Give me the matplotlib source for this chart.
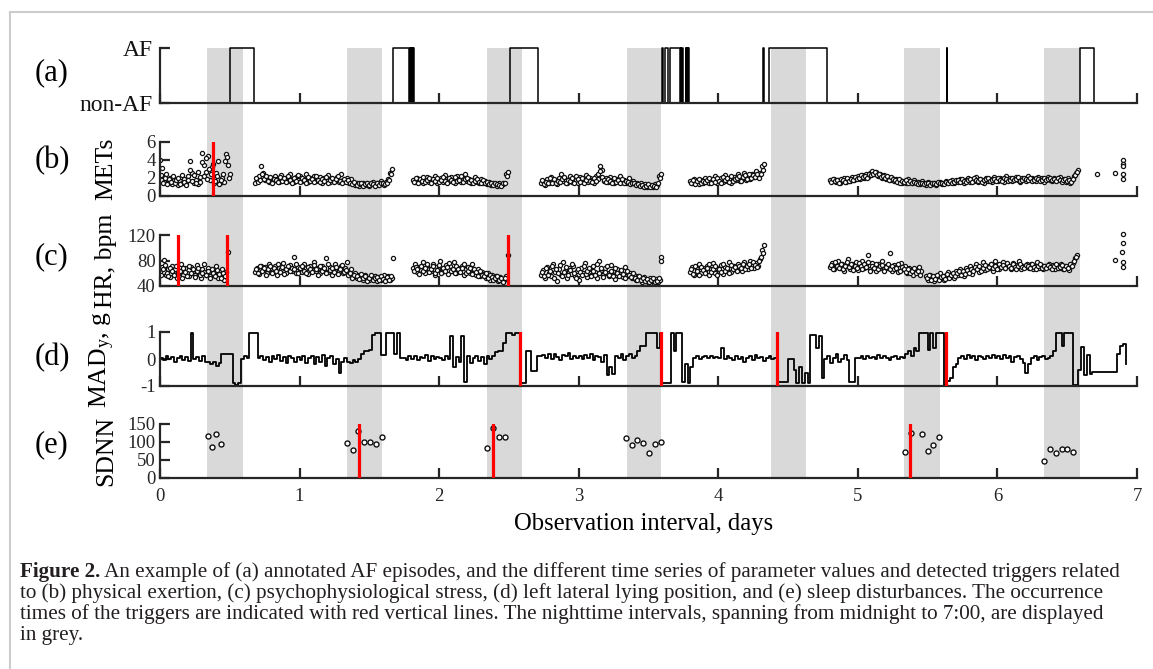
import numpy as np
import matplotlib.pyplot as plt
from matplotlib.lines import Line2D

plt.rcParams['font.family'] = 'Liberation Serif'
plt.rcParams['mathtext.fontset'] = 'custom'
plt.rcParams['mathtext.rm'] = 'Liberation Serif'
plt.rcParams['mathtext.it'] = 'Liberation Serif:italic'
plt.rcParams['axes.unicode_minus'] = False

W, H = 1153, 669

# ---- nights (grey), days ----
night_start = [0.334, 1.342, 2.34, 3.343, 4.375, 5.33, 6.335]
night_end = [0.592, 1.592, 2.595, 3.589, 4.63, 5.59, 6.59]

# ---- (a) AF episodes, days ----
af_start = [0.50, 1.67, 1.79, 1.80, 1.81, 1.816, 2.51, 3.600, 3.618, 3.657, 3.730, 3.742,
            3.768, 3.776, 3.784, 4.320, 4.365, 5.638, 6.59]
af_end = [0.67, 1.785, 1.795, 1.805, 1.813, 1.82, 2.71, 3.605, 3.642, 3.724, 3.736, 3.748,
          3.772, 3.780, 3.790, 4.325, 4.78, 5.642, 6.69]

# ---- (b) METs segments (start day, end day, values); two interleaved readings ----
mets_seg = [
    (0.00, 0.50, [4.0, 3.1, 1.6, 2.4, 1.4, 2.0, 1.3, 1.8, 1.5, 1.2, 1.7, 1.4, 1.9, 1.5, 2.2, 3.9, 2.6, 1.4,
                  1.8, 1.3, 2.1, 4.8, 3.5, 2.7, 4.5, 1.8, 3.2, 1.4, 2.6, 3.9, 1.5, 2.0, 1.6, 4.7, 3.4, 2.5]),
    (0.68, 1.66, [1.5, 1.9, 2.2, 3.3, 2.6, 1.8, 2.1, 1.6, 2.0, 1.7, 2.2, 1.9, 1.6, 2.3, 1.8, 2.0, 1.7, 2.4,
                  1.9, 1.6, 2.1, 1.8, 2.2, 1.7, 1.9, 2.4, 1.6, 2.0, 1.8, 2.2, 1.7, 1.9, 2.1, 1.5, 2.0, 1.8,
                  2.3, 1.6, 1.9, 1.7, 2.1, 1.6, 2.4, 1.8, 1.7, 2.0, 1.5, 1.9, 1.4, 1.2, 1.5, 1.1, 1.3, 1.4,
                  1.2, 1.5, 1.1, 1.3, 1.6, 1.2, 1.4, 1.3, 1.7, 1.2, 1.6, 1.9, 2.6, 3.0]),
    (1.81, 2.49, [1.8, 1.6, 2.0, 1.7, 1.9, 1.5, 1.8, 2.1, 1.6, 1.9, 1.7, 2.2, 1.5, 1.8, 2.0, 1.6, 2.3, 1.9,
                  1.7, 2.1, 1.8, 1.5, 2.2, 1.9, 1.6, 2.0, 2.4, 1.7, 1.9, 1.5, 1.8, 2.1, 1.6, 1.4, 1.9, 1.5,
                  1.7, 1.3, 1.6, 1.2, 1.5, 1.3, 1.1, 1.4, 1.2, 1.3, 2.4, 2.7]),
    (2.73, 3.59, [1.4, 1.7, 1.2, 1.9, 1.5, 2.1, 1.6, 1.8, 1.3, 2.0, 2.5, 1.7, 1.9, 1.5, 2.2, 1.6, 2.0, 1.8,
                  1.4, 2.1, 1.7, 1.9, 2.3, 1.6, 2.0, 1.8, 1.5, 2.2, 1.9, 3.3, 2.9, 1.7, 2.0, 1.6, 2.1, 1.8,
                  1.5, 1.9, 1.7, 2.2, 1.6, 1.8, 1.4, 2.0, 1.5, 1.7, 1.3, 1.5, 1.2, 1.4, 1.1, 1.3, 1.0, 1.2,
                  1.1, 1.0, 1.3, 1.2, 2.2, 2.5]),
    (3.80, 4.33, [1.7, 1.4, 1.9, 1.6, 1.3, 1.8, 1.5, 2.0, 1.6, 1.4, 1.9, 1.7, 2.2, 1.5, 1.8, 2.0, 1.6, 2.3,
                  1.7, 1.9, 1.5, 2.1, 1.8, 2.4, 1.7, 2.0, 2.6, 1.8, 2.2, 1.9, 2.5, 2.1, 2.8, 2.2, 2.6, 3.3, 3.6]),
    (4.80, 6.58, [1.8, 1.7, 1.9, 1.6, 1.8, 1.5, 1.7, 2.0, 1.6, 1.9, 1.7, 2.1, 1.8, 2.0,
                  2.2, 1.9, 2.3, 2.0, 2.4, 2.1, 2.6, 2.8, 2.5, 2.7, 2.2, 2.4, 2.0, 2.3, 1.9, 2.1, 1.8, 2.0,
                  1.7, 1.9, 1.6, 1.8, 1.5, 1.7, 1.4, 1.9, 1.6, 1.5, 1.8, 1.4, 1.6, 1.3, 1.7, 1.5, 1.2, 1.6,
                  1.4, 1.3, 1.5, 1.2, 1.4, 1.6, 1.3, 1.5, 1.7, 1.4, 1.6, 1.8, 1.5, 1.7,
                  1.6, 1.9, 1.7, 1.5, 1.8, 2.0, 1.6, 1.8, 1.7, 2.1, 1.6, 1.9, 1.8, 1.5, 2.0, 1.7, 1.9, 1.6,
                  2.1, 1.8, 1.7, 2.0, 1.9, 1.6, 2.2, 1.8, 2.0, 1.7, 1.9, 2.1, 1.8, 1.6, 2.0, 1.9, 1.7, 2.2,
                  1.8, 2.0, 1.9, 1.7, 2.1, 1.8, 2.0, 1.6, 1.9, 2.1, 1.8, 1.7, 2.0, 1.9, 1.8, 2.1, 1.7, 1.9,
                  1.6, 2.0, 1.5, 1.8, 2.2, 2.6, 2.9]),
]
mets_seg2 = [
    (0.007, 0.493, [2.3, 1.5, 2.0, 1.3, 1.9, 1.6, 2.2, 1.4, 1.8, 2.0, 1.3, 2.3, 1.6, 1.2, 1.8, 2.9, 1.7, 2.3,
                    1.5, 2.7, 1.6, 3.8, 2.2, 4.2, 1.9, 3.0, 2.4, 3.6, 1.7, 2.2, 1.3, 1.8, 2.4, 3.9, 4.3, 2.0]),
    (0.687, 1.653, [2.0, 1.6, 1.8, 2.5, 1.9, 2.2, 1.7, 2.1, 1.5, 1.9, 1.8, 1.6, 2.1, 1.7, 2.0, 1.6, 2.2, 1.8,
                    1.5, 2.0, 1.7, 2.3, 1.6, 2.0, 1.8, 1.5, 2.1, 1.7, 1.9, 1.6, 2.2, 1.8, 1.6, 1.9, 1.7, 2.1,
                    1.5, 1.8, 2.0, 1.6, 1.9, 2.2, 1.7, 1.5, 1.9, 1.6, 1.8, 1.5, 1.3, 1.6, 1.2, 1.4, 1.5, 1.1,
                    1.3, 1.4, 1.2, 1.5, 1.3, 1.1, 1.5, 1.2, 1.4, 1.5, 1.3, 1.4, 1.8, 2.4]),
    (1.817, 2.483, [1.6, 2.0, 1.5, 1.9, 1.7, 2.1, 1.6, 1.8, 2.0, 1.5, 1.9, 1.7, 2.0, 1.6, 1.8, 2.1, 1.7, 1.5,
                    2.0, 1.8, 1.6, 2.1, 1.7, 1.8, 2.2, 1.6, 1.9, 2.0, 1.6, 1.8, 1.5, 1.7, 1.9, 1.6, 1.5, 1.8,
                    1.4, 1.6, 1.3, 1.5, 1.2, 1.4, 1.3, 1.2, 1.1, 1.4, 1.5, 2.2]),
    (2.737, 3.583, [1.8, 1.3, 1.6, 1.5, 2.0, 1.4, 1.9, 1.5, 1.7, 1.6, 1.9, 2.1, 1.5, 1.8, 1.7, 2.0, 1.5, 2.2,
                    1.9, 1.6, 2.0, 1.5, 1.8, 2.1, 1.7, 1.6, 2.0, 1.7, 2.4, 2.8, 2.1, 1.8, 1.6, 1.9, 1.7, 1.5,
                    2.0, 1.6, 1.8, 1.5, 1.9, 1.5, 1.7, 1.6, 1.3, 1.5, 1.4, 1.2, 1.3, 1.1, 1.2, 1.0, 1.1, 1.3,
                    1.0, 1.2, 1.1, 1.0, 1.4, 2.0]),
    (3.807, 4.323, [1.5, 1.8, 1.3, 1.7, 1.9, 1.5, 1.7, 1.6, 1.8, 2.0, 1.5, 1.9, 1.6, 2.0, 1.7, 1.5, 2.1, 1.8,
                    2.0, 1.6, 2.2, 1.7, 1.9, 2.0, 2.2, 1.7, 2.1, 2.3, 1.9, 2.4, 2.0, 2.3, 2.1, 2.5, 2.0, 2.4, 2.9]),
    (4.807, 6.573, [1.6, 1.9, 1.7, 1.8, 1.5, 1.9, 1.8, 1.6, 2.0, 1.7, 1.9, 1.8, 2.1, 1.9,
                    2.0, 2.3, 2.1, 2.2, 2.0, 2.5, 2.3, 2.4, 2.7, 2.3, 2.5, 2.1, 2.2, 2.0, 2.2, 1.8, 2.1, 1.9,
                    1.8, 1.6, 1.9, 1.5, 1.7, 1.6, 1.8, 1.5, 1.7, 1.4, 1.6, 1.5, 1.3, 1.5, 1.4, 1.3, 1.5, 1.4,
                    1.2, 1.5, 1.4, 1.3, 1.6, 1.4, 1.5, 1.3, 1.6, 1.5, 1.7, 1.5, 1.6, 1.8,
                    1.8, 1.6, 1.9, 1.7, 1.6, 1.8, 1.9, 1.6, 2.0, 1.8, 1.7, 1.9, 1.6, 1.8, 1.9, 2.0, 1.7, 1.8,
                    1.9, 1.7, 2.0, 1.8, 1.7, 2.0, 1.9, 1.7, 1.8, 2.0, 1.8, 1.9, 2.1, 1.7, 1.8, 2.0, 1.9, 1.8,
                    2.0, 1.7, 1.8, 2.0, 1.9, 1.7, 1.8, 2.0, 1.8, 1.9, 2.0, 1.8, 1.9, 1.7, 2.0, 1.8, 1.6, 1.8,
                    1.9, 1.7, 1.8, 1.6, 1.9, 2.3, 2.7]),
]
mets_t_extra = [6.71, 6.84, 6.90, 6.90, 6.90, 6.90, 6.90]
mets_v_extra = [2.5, 2.6, 4.0, 3.6, 3.3, 2.4, 1.85]
mets_trig = [0.38]

# ---- (c) HR segments ----
hr_seg = [
    (0.00, 0.47, [62, 70, 81, 58, 66, 54, 72, 60, 67, 52, 63, 75, 57, 68, 61, 55, 70, 64, 58, 73, 60, 53,
                  66, 62, 57, 69, 55, 64, 60, 71, 52, 58, 66, 50, 62]),
    (0.68, 1.66, [62, 68, 59, 72, 65, 70, 60, 74, 67, 63, 71, 58, 69, 66, 76, 61, 68, 73, 64, 85, 60, 70,
                  66, 62, 74, 68, 59, 71, 65, 78, 63, 69, 60, 72, 66, 84, 62, 70, 58, 75, 67, 64, 71, 60,
                  68, 77, 63, 66, 56, 61, 52, 58, 54, 50, 57, 53, 49, 56, 51, 55, 48, 54, 50, 57, 52, 55,
                  49, 53]),
    (1.81, 2.48, [68, 74, 62, 70, 65, 78, 60, 72, 67, 63, 75, 58, 70, 66, 80, 62, 69, 73, 59, 71, 64, 77,
                  61, 68, 65, 72, 57, 66, 70, 60, 74, 63, 58, 67, 55, 62, 59, 53, 61, 50, 57, 52, 55, 48,
                  54, 51, 49, 56]),
    (2.73, 3.58, [58, 65, 52, 70, 60, 55, 74, 62, 48, 67, 57, 78, 63, 53, 69, 59, 72, 56, 64, 50, 68, 61,
                  76, 54, 66, 58, 71, 62, 52, 80, 65, 57, 69, 60, 55, 73, 63, 51, 67, 58, 62, 54, 70, 56,
                  60, 52, 58, 49, 55, 51, 47, 54, 50, 46, 52, 48, 45, 51, 47, 50]),
    (3.80, 4.33, [62, 70, 58, 66, 74, 60, 68, 63, 72, 57, 67, 76, 61, 69, 64, 73, 59, 70, 66, 78, 62, 71,
                  65, 75, 68, 63, 77, 70, 66, 80, 72, 68, 76, 71, 82, 96, 105]),
    (4.80, 5.45, [70, 76, 66, 73, 79, 68, 74, 64, 71, 82, 67, 75, 70, 78, 65, 72, 80, 69, 74, 88, 67, 76,
                  71, 63, 75, 69, 79, 66, 72, 68, 91, 64, 73, 70, 62, 76, 67, 71, 60, 69, 65, 58, 67, 62,
                  70, 64]),
    (5.49, 6.57, [55, 50, 58, 53, 48, 56, 52, 60, 54, 49, 57, 62, 55, 59, 53, 63, 58, 66, 61, 56, 68, 63,
                  71, 59, 66, 74, 62, 69, 77, 65, 72, 68, 75, 64, 79, 70, 66, 73, 78, 68, 74, 71, 66, 76,
                  69, 73, 80, 67, 72, 70, 75, 68, 74, 66, 71, 77, 69, 73, 67, 72, 70, 75, 68, 73, 66, 71,
                  69, 74, 67, 72, 70, 65, 71, 76, 84, 89]),
]
hr_seg2 = [
    (0.007, 0.463, [58, 66, 73, 61, 55, 69, 63, 57, 71, 59, 64, 52, 68, 62, 56, 72, 60, 66, 54, 63, 69, 57,
                    61, 74, 58, 64, 52, 67, 61, 55, 65, 59, 53, 60, 56]),
    (0.687, 1.653, [66, 60, 71, 63, 69, 58, 67, 72, 61, 68, 64, 75, 62, 70, 59, 66, 72, 63, 69, 67, 74, 61,
                    68, 71, 64, 60, 70, 66, 62, 73, 67, 58, 71, 64, 69, 61, 74, 65, 68, 62, 70, 59, 66, 73,
                    62, 65, 58, 60, 53, 57, 55, 51, 59, 52, 55, 48, 53, 57, 50, 52, 54, 49, 56, 51, 48, 54,
                    50, 56]),
    (1.817, 2.473, [63, 70, 66, 59, 72, 64, 69, 74, 62, 67, 71, 61, 65, 73, 60, 68, 64, 70, 76, 63, 67, 60,
                    72, 66, 62, 69, 74, 61, 64, 68, 59, 66, 62, 56, 64, 58, 55, 60, 52, 57, 54, 50, 53, 56,
                    49, 52, 47, 53]),
    (2.737, 3.573, [62, 55, 68, 57, 64, 71, 53, 66, 60, 73, 56, 62, 70, 58, 65, 75, 61, 53, 67, 62, 57, 71,
                    59, 64, 69, 55, 63, 58, 74, 60, 68, 54, 62, 71, 58, 64, 56, 69, 61, 55, 65, 59, 52, 63,
                    57, 54, 61, 53, 50, 56, 49, 52, 48, 51, 47, 49, 53, 46, 48, 52]),
    (3.807, 4.323, [66, 59, 72, 63, 57, 70, 65, 61, 68, 74, 62, 66, 71, 58, 67, 62, 75, 64, 69, 61, 73, 67,
                    70, 64, 72, 69, 74, 66, 71, 75, 68, 78, 73, 70, 79, 85, 92]),
    (4.807, 5.443, [73, 67, 78, 71, 69, 75, 66, 72, 77, 70, 74, 65, 72, 68, 76, 71, 66, 74, 70, 78, 64, 72,
                    68, 75, 66, 71, 73, 63, 70, 75, 67, 72, 66, 69, 74, 64, 70, 66, 62, 67, 60, 64, 68, 61,
                    63, 58]),
    (5.497, 6.563, [52, 57, 49, 55, 51, 58, 50, 54, 56, 51, 59, 53, 57, 61, 56, 60, 64, 57, 63, 59, 65, 61,
                    67, 64, 70, 66, 72, 63, 68, 73, 66, 70, 74, 69, 72, 67, 75, 70, 73, 68, 76, 72, 69, 74,
                    70, 67, 72, 75, 70, 68, 73, 71, 69, 74, 70, 67, 72, 75, 68, 71, 69, 73, 70, 66, 72, 74,
                    68, 70, 73, 67, 71, 69, 74, 72, 79, 86]),
]
hr_t_extra = [0.49, 1.67, 2.49, 3.59, 3.59, 6.84, 6.89, 6.90, 6.90, 6.90, 6.90]
hr_v_extra = [94, 84, 88, 85, 80, 81, 94, 121, 107, 78, 70]
hr_trig = [0.13, 0.48, 2.495]

# ---- (d) MAD_y, sampled every 0.02 days from day 0 ----
mad_step = 0.02
mad = [
    # day 0
    0.05, -0.05, 0.1, 0.0, 0.08, -0.1, 0.05, 0.12, -0.02, 0.06, -0.08, 0.95, 0.0, 0.08, -0.06, 0.1, -0.12,
    -0.1, -0.2, -0.12, -0.25, -0.15, 0.18, 0.2, 0.18, 0.2, -0.9, -0.95, -0.9, 0.0, 0.1, 0.05, 0.95, 0.95, 0.95,
    0.05, 0.12, -0.05, 0.08, -0.12, 0.1, 0.0, 0.15, -0.08, 0.06, -0.15, 0.1, 0.02, -0.1, 0.08,
    # day 1
    -0.05, 0.1, -0.15, 0.05, 0.12, -0.2, 0.08, -0.1, 0.15, -0.25, 0.05, 0.1, -0.18, 0.0, -0.5, -0.1, 0.05,
    -0.1, -0.15, -0.05, -0.1, 0.0, 0.2, 0.3,
    0.3, 0.35, 0.9, 0.95, 0.95, 0.15, 0.15, 0.95, 0.95, 0.95, 0.2, 0.95, 0.05,
    0.05, -0.02, 0.1, 0.0, 0.12, -0.05, 0.08, 0.02, 0.15, -0.08, 0.1, 0.0, 0.06,
    # day 2
    0.05, -0.05, 0.1, 0.0, 0.85, -0.3, 0.08, -0.1, 0.85, -0.85, 0.1, -0.15, 0.05, 0.12, -0.08, 0.06, -0.2, 0.1, 0.0,
    0.1, 0.25, 0.3, 0.3, 0.6, 0.95, 0.95, 0.9, 0.95, 0.95,
    -0.9, -0.9, 0.3, 0.3, -0.45, -0.45, 0.1,
    0.1, 0.15, 0.05, 0.2, 0.0, 0.18, 0.08, -0.05, 0.15, 0.1, 0.22, 0.0, 0.12, 0.05,
    # day 3
    0.1, 0.0, 0.15, 0.05, 0.2, -0.05, 0.12, 0.08, -0.1, 0.15, -0.6, -0.3, -0.55, 0.1, 0.05, 0.18, -0.02, 0.12,
    0.2, 0.05, 0.1,
    0.3, 0.5, 0.5, 0.95, 0.95, 0.95, 0.95, 0.4, 0.95,
    -0.9, -0.9, -0.9, 0.95, 0.3, 0.95, 0.95, -0.85, -0.2, -0.9, -0.3,
    0.05, 0.1, 0.0, 0.08, 0.12, 0.02, 0.1, 0.05, 0.08,
    # day 4
    0.05, 0.4, 0.0, 0.1, 0.05, -0.05, 0.12, 0.0, 0.08, -0.1, 0.05, 0.1, -0.05, 0.15, 0.02, 0.08, -0.08, 0.05,
    0.1, 0.0, 0.05,
    -0.85, -0.85, -0.85, -0.85, 0.0, 0.0, -0.4, -0.9, -0.3, -0.9, -0.5, -0.9, 0.9, 0.9, 0.4, 0.85, -0.7, 0.0,
    0.1, -0.15, 0.05, 0.2, -0.1, 0.0, 0.15, -0.05,
    -0.85, -0.85, 0.05,
    # day 5
    0.05, 0.1, 0.0, 0.12, 0.05, 0.08, 0.0, 0.15, 0.02, 0.1, 0.05, -0.05, 0.08, 0.1, 0.0, 0.06, 0.05,
    0.2, 0.3, 0.1, 0.4, 0.3,
    0.95, 0.95, 0.95, 0.35, 0.95, 0.4, 0.95, 0.95, 0.95,
    -0.95, -0.8, -0.7, -0.3, -0.2,
    0.05, 0.1, 0.0, 0.15, 0.05, 0.1, -0.05, 0.12, 0.08, 0.0, 0.1, 0.05, 0.15, 0.02,
    # day 6
    0.1, 0.0, 0.15, 0.05, 0.1, -0.1, 0.08, 0.12, 0.0, -0.15, -0.5, -0.2, 0.05, 0.1, -0.05, 0.08, 0.12, 0.0,
    0.05, 0.1,
    0.3, 0.95, 0.95, 0.5, 0.95, 0.95, 0.95,
    -0.95, -0.95, -0.4, 0.45, -0.6, 0.15, -0.55,
    -0.49, -0.49, -0.49, -0.49, -0.49, -0.49, -0.49, -0.49, -0.49,
    0.2, 0.5, 0.55, -0.2,
]
mad_trig = [2.58, 3.59, 4.42, 5.63]

# ---- (e) SDNN ----
sdnn_t = [0.346, 0.37, 0.40, 0.44, 1.342, 1.384, 1.42, 1.46, 1.505, 1.548, 1.59,
          2.34, 2.385, 2.43, 2.47, 3.338, 3.38, 3.42, 3.46, 3.50, 3.55, 3.59,
          5.337, 5.38, 5.46, 5.50, 5.54, 5.58, 6.335, 6.375, 6.42, 6.46, 6.50, 6.545]
sdnn_v = [117, 85, 121, 95, 96, 77, 130, 101, 99, 94, 114,
          84, 140, 113, 113, 110, 93, 106, 96, 70, 94, 99,
          73, 124, 122, 74, 92, 114, 47, 80, 69, 81, 81, 73]
sdnn_trig = [1.428, 2.385, 5.377]

# ---------------------------------------------------------------
SPINE = '#262626'
RED = '#ff0000'

fig = plt.figure(figsize=(W / 100, H / 100), dpi=100)


def box(top, bottom):
    return [160 / W, 1 - bottom / H, 977 / W, (bottom - top) / H]


def style(ax, ylim, yticks):
    ax.set_xlim(0, 7)
    ax.set_ylim(*ylim)
    ax.set_xticks(range(8))
    ax.set_yticks(yticks)
    for s in ['top', 'right']:
        ax.spines[s].set_visible(False)
    for s in ['left', 'bottom']:
        ax.spines[s].set_color(SPINE)
        ax.spines[s].set_linewidth(1.6)
    ax.tick_params(direction='in', length=7, width=1.6, color=SPINE, labelsize=13.5,
                   labelcolor=SPINE, pad=3)
    ax.tick_params(axis='x', labelbottom=False)
    ax.patch.set_alpha(0)


# background with the night intervals
ax_bg = fig.add_axes(box(48, 479), zorder=0)
ax_bg.set_xlim(0, 7)
ax_bg.set_ylim(0, 1)
ax_bg.axis('off')
for a, b in zip(night_start, night_end):
    ax_bg.axvspan(a, b, color='#d9d9d9', lw=0)

# (a)
ax_a = fig.add_axes(box(48, 103), zorder=1)
t_af = [0.0]
s_af = [0]
for a, b in zip(af_start, af_end):
    t_af += [a, b]
    s_af += [1, 0]
t_af.append(7.0)
s_af.append(0)
ax_a.step(t_af, s_af, where='post', color='k', lw=1.1, clip_on=False)
style(ax_a, (0, 1), [0, 1])
ax_a.set_yticklabels(['non-AF', 'AF'], color='#111111', fontsize=17)
ax_a.tick_params(axis='y', pad=5)


def scatter_segments(ax, segs, t_extra, v_extra):
    for a, b, vals in segs:
        tt = np.linspace(a, b, len(vals))
        ax.plot(tt, vals, 'o', ms=3.0, mfc='white', mec='#111111', mew=0.9, ls='none')
    ax.plot(t_extra, v_extra, 'o', ms=3.0, mfc='white', mec='#111111', mew=0.9, ls='none',
            clip_on=False)


# (b)
ax_b = fig.add_axes(box(142, 196), zorder=1)
scatter_segments(ax_b, mets_seg + mets_seg2, mets_t_extra, mets_v_extra)
for t in mets_trig:
    ax_b.axvline(t, color=RED, lw=2.3, zorder=5)
style(ax_b, (0, 6), [0, 2, 4, 6])
ax_b.set_ylabel('METs', fontsize=18.5)

# (c)
ax_c = fig.add_axes(box(235, 286), zorder=1)
scatter_segments(ax_c, hr_seg + hr_seg2, hr_t_extra, hr_v_extra)
for t in hr_trig:
    ax_c.axvline(t, color=RED, lw=2.3, zorder=5)
style(ax_c, (40, 120), [40, 80, 120])
ax_c.set_ylabel('HR, bpm', fontsize=18.5)

# (d)
ax_d = fig.add_axes(box(332, 386), zorder=1)
t_mad = np.arange(len(mad)) * mad_step
ax_d.plot(t_mad, mad, color='k', lw=1.3, drawstyle='steps-post')
for t in mad_trig:
    ax_d.axvline(t, color=RED, lw=2.3, zorder=5)
style(ax_d, (-1, 1), [-1, 0, 1])
ax_d.set_ylabel(r'MAD$_{\mathrm{y}}$, g', fontsize=18.5)

# (e)
ax_e = fig.add_axes(box(424, 478), zorder=1)
ax_e.plot(sdnn_t, sdnn_v, 'o', ms=3.6, mfc='white', mec='#111111', mew=1.0, ls='none')
for t in sdnn_trig:
    ax_e.axvline(t, color=RED, lw=2.3, zorder=5)
style(ax_e, (0, 150), [0, 50, 100, 150])
ax_e.tick_params(axis='x', labelbottom=True, pad=7)
ax_e.set_ylabel('SDNN', fontsize=18.5)

for ax in [ax_b, ax_c, ax_d, ax_e]:
    ax.yaxis.set_label_coords(-0.044, 0.5)

fig.text(644 / W, 1 - 524 / H, 'Observation interval, days', fontsize=17.7, ha='center', va='center')

# panel letters
for lab, yc in zip(['(a)', '(b)', '(c)', '(d)', '(e)'], [73, 161, 257, 358, 445]):
    fig.text(35 / W, 1 - yc / H, lab, fontsize=22, ha='left', va='center')

# page frame lines
fig.add_artist(Line2D([10 / W, 1], [1 - 12 / H, 1 - 12 / H], color='#cccccc', lw=1.5))
fig.add_artist(Line2D([10 / W, 10 / W], [0, 1 - 12 / H], color='#cccccc', lw=1.5))

# caption
cap_fs = 15.2
cap_col = '#231f20'
t1 = fig.text(20 / W, 1 - 577 / H, 'Figure 2.', fontsize=cap_fs, weight='bold', color=cap_col,
              va='baseline')
ax_e.annotate(' An example of (a) annotated AF episodes, and the different time series of parameter '
              'values and detected triggers related', xy=(1, 0), xycoords=t1, va='bottom', ha='left',
              fontsize=cap_fs, color=cap_col)
cap_lines = [
    'to (b) physical exertion, (c) psychophysiological stress, (d) left lateral lying position, and (e) '
    'sleep disturbances. The occurrence',
    'times of the triggers are indicated with red vertical lines. The nighttime intervals, spanning from '
    'midnight to 7:00, are displayed',
    'in grey.',
]
for line, yb in zip(cap_lines, [598, 619, 640]):
    fig.text(20 / W, 1 - yb / H, line, fontsize=cap_fs, color=cap_col, va='baseline')

fig.savefig('out.png', dpi=100)
